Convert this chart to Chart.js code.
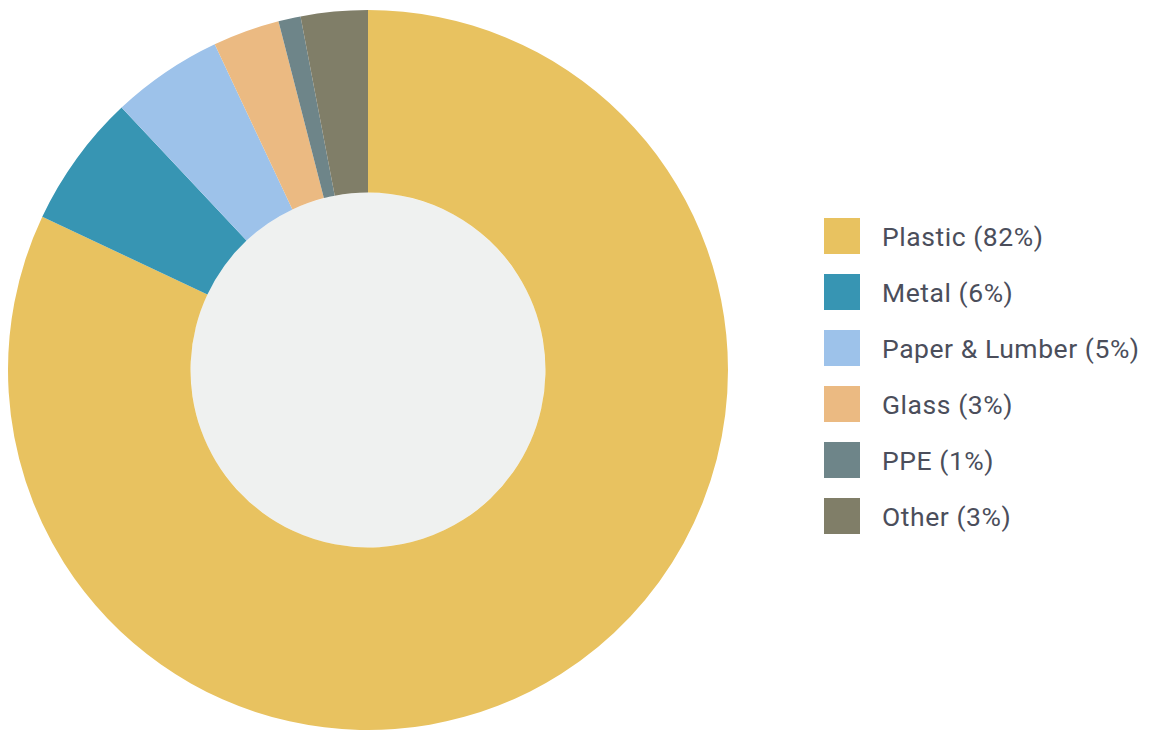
<!DOCTYPE html>
<html>
<head>
<meta charset="utf-8">
<script src="https://cdn.jsdelivr.net/npm/chart.js@4/dist/chart.umd.min.js"></script>
<style>
  html, body { margin: 0; padding: 0; background: #fff; }
  body { width: 1150px; height: 732px; position: relative; overflow: hidden; font-family: Roboto, "Noto Sans", sans-serif; }
  .chartBox { position: absolute; left: 0; top: 10px; width: 736px; height: 720px; }
  .legend { position: absolute; left: 824px; top: 218px; margin: 0; padding: 0; list-style: none; }
  .legend li { display: flex; align-items: center; height: 36px; margin-bottom: 20px; }
  .legend .swatch { width: 36px; height: 36px; margin-right: 22px; flex: none; }
  .legend .txt { font-size: 26.5px; letter-spacing: 0.55px; color: #4b4e5b; white-space: nowrap; }
</style>
</head>
<body>
<div class="chartBox"><canvas id="wasteChart"></canvas></div>
<ul class="legend" id="wasteLegend"></ul>
<script>
const categories = ["Plastic", "Metal", "Paper & Lumber", "Glass", "PPE", "Other"];
const shares = [82, 6, 5, 3, 1, 3];
const colors = ["#e8c260", "#3795b3", "#9dc2ea", "#ebba82", "#6e8589", "#807e68"];
const holeColor = "#eff1f0";

// fill the middle of the ring
const holeFill = {
  id: "holeFill",
  beforeDatasetsDraw(chart) {
    const arc = chart.getDatasetMeta(0).data[0];
    if (!arc) return;
    const ctx = chart.ctx;
    ctx.save();
    ctx.fillStyle = holeColor;
    ctx.beginPath();
    ctx.arc(arc.x, arc.y, arc.innerRadius, 0, Math.PI * 2);
    ctx.fill();
    ctx.restore();
  },
};

const chart = new Chart(document.getElementById("wasteChart"), {
  type: "doughnut",
  data: {
    labels: categories,
    datasets: [
      {
        data: shares,
        backgroundColor: colors,
        borderWidth: 0,
        hoverOffset: 0,
      },
    ],
  },
  options: {
    responsive: true,
    maintainAspectRatio: false,
    animation: false,
    cutout: "49.3%",
    layout: { padding: 0 },
    plugins: {
      legend: { display: false },
      tooltip: { enabled: false },
    },
  },
  plugins: [holeFill],
});

// legend on the right
const legendList = document.getElementById("wasteLegend");
chart.data.labels.forEach((name, i) => {
  const li = document.createElement("li");
  const box = document.createElement("span");
  box.className = "swatch";
  box.style.background = colors[i];
  const txt = document.createElement("span");
  txt.className = "txt";
  txt.textContent = name + " (" + shares[i] + "%)";
  li.appendChild(box);
  li.appendChild(txt);
  legendList.appendChild(li);
});
</script>
</body>
</html>
